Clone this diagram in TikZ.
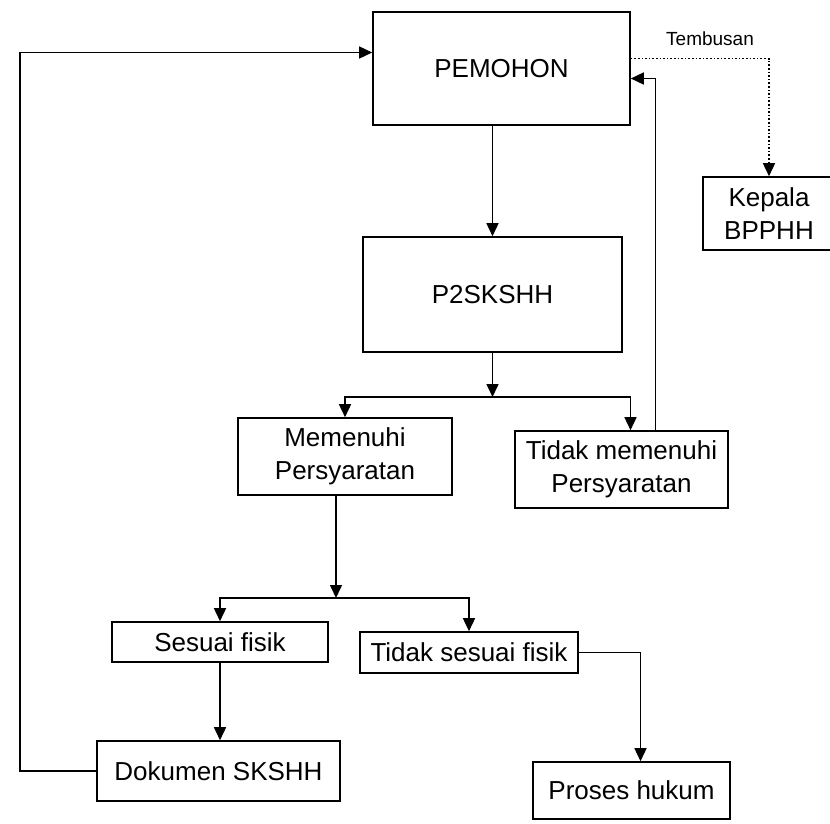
\documentclass[tikz,border=0pt]{standalone}
\usepackage{fontspec}
\setmainfont{Liberation Sans}
\usepackage{tikz}
\usetikzlibrary{arrows.meta, positioning, calc}

\begin{document}
\begin{tikzpicture}[x=1pt, y=-1pt,
    box/.style={draw, line width=1.6pt, inner sep=0pt, align=center,
      font=\fontsize{26}{33}\selectfont},
    arr/.style={line width=1.5pt, -{Triangle[length=13pt, width=12pt]}},
    dotarr/.style={line width=1.6pt, dotted, -{Triangle[length=13pt, width=12pt]}}]
  \useasboundingbox (0, 0) rectangle (830, 823);

  % Pemohon and copy recipient
  \node[box, minimum width=257pt, minimum height=113pt] (pemohon) at (501.5, 68.5) {PEMOHON};
  \node[box, minimum width=132pt, minimum height=73pt] (kepala) at (769, 213.5) {Kepala\\BPPHH};
  \node[font=\fontsize{19}{22}\selectfont] (tembusan) at (710, 39) {Tembusan};

  % Checking
  \node[box, minimum width=259pt, minimum height=115pt] (p2skshh) at (492.5, 294.5) {P2SKSHH};
  \node[box, minimum width=214pt, minimum height=77pt] (memenuhi) at (345, 456.5) {Memenuhi\\Persyaratan};
  \node[box, minimum width=213pt, minimum height=77pt] (tidakmem) at (621.5, 469.5) {Tidak memenuhi\\Persyaratan};

  % Physical check
  \node[box, minimum width=216pt, minimum height=40pt] (sesuai) at (220, 642) {Sesuai fisik};
  \node[box, minimum width=218pt, minimum height=41pt] (tidaksesuai) at (469, 652.5) {Tidak sesuai fisik};
  \node[box, minimum width=243pt, minimum height=60pt] (dokumen) at (218.5, 771) {Dokumen SKSHH};
  \node[box, minimum width=197pt, minimum height=57pt] (proses) at (631.5, 790.5) {Proses hukum};

  \coordinate (split1) at (492.5, 397);
  \coordinate (split2) at (336, 598);

  % Connectors
  \draw[arr] (p2skshh.north |- pemohon.south) -- (p2skshh.north);
  \draw[arr] (p2skshh.south) -- (split1);
  \draw[arr] (split1) -| (memenuhi.north);
  \draw[arr] (split1) -| ([xshift=9pt]tidakmem.north);
  \draw[arr] ([xshift=34pt]tidakmem.north) |- ([yshift=-10pt]pemohon.east);
  \draw[dotarr] ([yshift=10pt]pemohon.east) -| (kepala.north);
  \draw[arr] (memenuhi.south -| split2) -- (split2);
  \draw[arr] (split2) -| (sesuai.north);
  \draw[arr] (split2) -| (tidaksesuai.north);
  \draw[arr] (sesuai.south) -- (sesuai.south |- dokumen.north);
  \draw[arr] (tidaksesuai.east) -| ([xshift=9pt]proses.north);
  \draw[arr] (dokumen.west) -- ++(-76, 0) |- ([yshift=16pt]pemohon.west);
\end{tikzpicture}
\end{document}
